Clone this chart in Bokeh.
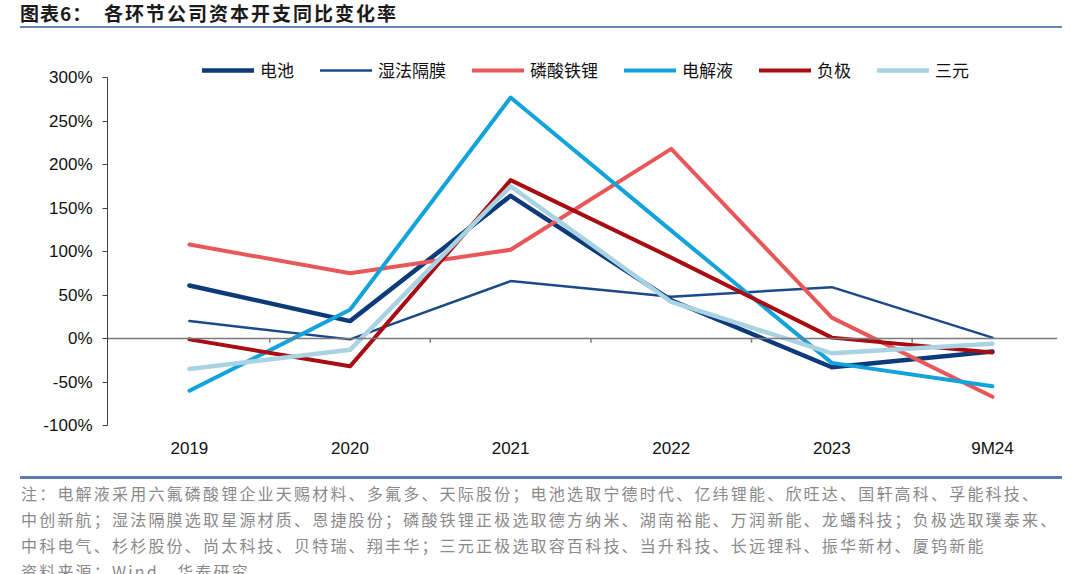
from bokeh.plotting import figure
from bokeh.models import (Range1d, FixedTicker, PrintfTickFormatter, Span, Legend, LegendItem, Div)
from bokeh.layouts import column
from bokeh.embed import file_html
from bokeh.resources import INLINE

# ---- data ----
categories = ["2019", "2020", "2021", "2022", "2023", "9M24"]
battery = [61, 20, 164, 44, -33, -15]          # 电池
separator = [20, -1, 66, 48, 59, 1]           # 湿法隔膜
lfp = [108, 75, 102, 218, 24, -67]            # 磷酸铁锂
electrolyte = [-60, 33, 277, 124, -28, -55]   # 电解液
anode = [-1, -32, 182, 93, 1, -16]            # 负极
ternary = [-35, -13, 175, 42, -17, -6]        # 三元
series_names = ["电池", "湿法隔膜", "磷酸铁锂", "电解液", "负极", "三元"]
y_ticks = [-100, -50, 0, 50, 100, 150, 200, 250, 300]

title_a = "图表6："
title_b = "各环节公司资本开支同比变化率"
notes = [
    "注：电解液采用六氟磷酸锂企业天赐材料、多氟多、天际股份；电池选取宁德时代、亿纬锂能、欣旺达、国轩高科、孚能科技、",
    "中创新航；湿法隔膜选取星源材质、恩捷股份；磷酸铁锂正极选取德方纳米、湖南裕能、万润新能、龙蟠科技；负极选取璞泰来、",
    "中科电气、杉杉股份、尚太科技、贝特瑞、翔丰华；三元正极选取容百科技、当升科技、长远锂科、振华新材、厦钨新能",
    "资料来源：Wind，华泰研究",
]

CJK = "Noto Sans CJK SC"
NUM = "Liberation Sans"
W = 1080

# ---- header ----
top_html = (
    f'<div style="position:relative;width:{W}px;height:34px;font-family:\'{CJK}\';">'
    f'<span style="position:absolute;left:20px;top:1px;font-size:19px;line-height:24px;font-weight:bold;'
    f'letter-spacing:1px;color:#1a1a1a;white-space:nowrap;">{title_a}</span>'
    f'<span style="position:absolute;left:104px;top:1px;font-size:19px;line-height:24px;font-weight:bold;'
    f'letter-spacing:2px;color:#1a1a1a;white-space:nowrap;">{title_b}</span>'
    f'<div style="position:absolute;left:20px;top:26px;width:1042px;height:2px;background:#6286b8;"></div>'
    '</div>'
)
div_top = Div(text=top_html, width=W, height=34, margin=0)

# ---- chart ----
xs = list(range(len(categories)))
fig_h = 436
p = figure(width=W, height=fig_h, output_backend="svg", toolbar_location=None,
           x_range=Range1d(-0.51, 5.405), y_range=Range1d(-100, 325.3),
           min_border_left=107, min_border_right=W - 1057, min_border_top=21, min_border_bottom=45,
           margin=0)
p.outline_line_color = None
p.xgrid.visible = False
p.ygrid.visible = False

xa = p.xaxis[0]
xa.ticker = FixedTicker(ticks=xs)
xa.major_label_overrides = {i: c for i, c in enumerate(categories)}
xa.axis_line_color = None
xa.major_tick_line_color = None
xa.minor_tick_line_color = None
xa.major_label_standoff = 7
xa.major_label_text_font = NUM
xa.major_label_text_font_size = "17px"
xa.major_label_text_color = "#111111"

ya = p.yaxis[0]
ya.ticker = FixedTicker(ticks=y_ticks)
ya.bounds = (y_ticks[0], y_ticks[-1])
ya.formatter = PrintfTickFormatter(format="%d%%")
ya.axis_line_color = "#404040"
ya.major_tick_line_color = "#404040"
ya.major_tick_out = 5
ya.major_tick_in = 0
ya.minor_tick_line_color = None
ya.major_label_standoff = 10
ya.major_label_text_font = NUM
ya.major_label_text_font_size = "17px"
ya.major_label_text_color = "#111111"

# zero line with category boundary ticks
p.add_layout(Span(location=0, dimension="width", line_color="#7a7a7a", line_width=1.5))
bounds = [i + 0.5 for i in xs[:-1]]
p.segment(x0=bounds, y0=[0] * len(bounds), x1=bounds, y1=[-5] * len(bounds),
          line_color="#7a7a7a", line_width=1.5)

series = [battery, separator, lfp, electrolyte, anode, ternary]
colors = ["#0d3b7a", "#1b4a8c", "#e8585a", "#12a3da", "#a80d12", "#a9d2e2"]
widths = [4.5, 2.5, 4, 4, 4, 4.5]
items = []
for name, ys, c, w in zip(series_names, series, colors, widths):
    r = p.line(xs, ys, line_color=c, line_width=w, line_join="round", line_cap="round")
    items.append(LegendItem(label=name, renderers=[r]))

legend = Legend(items=items, orientation="horizontal", location=(95, 343),
                glyph_width=52, glyph_height=20, label_height=20, label_standoff=6,
                spacing=26, padding=0, margin=0, border_line_alpha=0, background_fill_alpha=0,
                label_text_font=CJK, label_text_font_size="17px", label_text_color="#111111")
p.add_layout(legend)

# ---- footnotes ----
line_divs = "".join(
    f'<div style="position:absolute;left:21px;top:{10 + 26 * i}px;font-size:16px;line-height:26px;'
    f'letter-spacing:2.2px;color:#8a8a8a;white-space:nowrap;">{t}</div>'
    for i, t in enumerate(notes)
)
bot_html = (
    f'<div style="position:relative;width:{W}px;height:104px;overflow:hidden;font-family:\'{CJK}\';">'
    f'<div style="position:absolute;left:20px;top:6px;width:1042px;height:3px;background:#5a7cae;"></div>'
    f'{line_divs}</div>'
)
div_bot = Div(text=bot_html, width=W, height=104, margin=0)

layout = column(div_top, p, div_bot, spacing=0, margin=0)
open("out.html", "w").write(file_html(layout, INLINE))
